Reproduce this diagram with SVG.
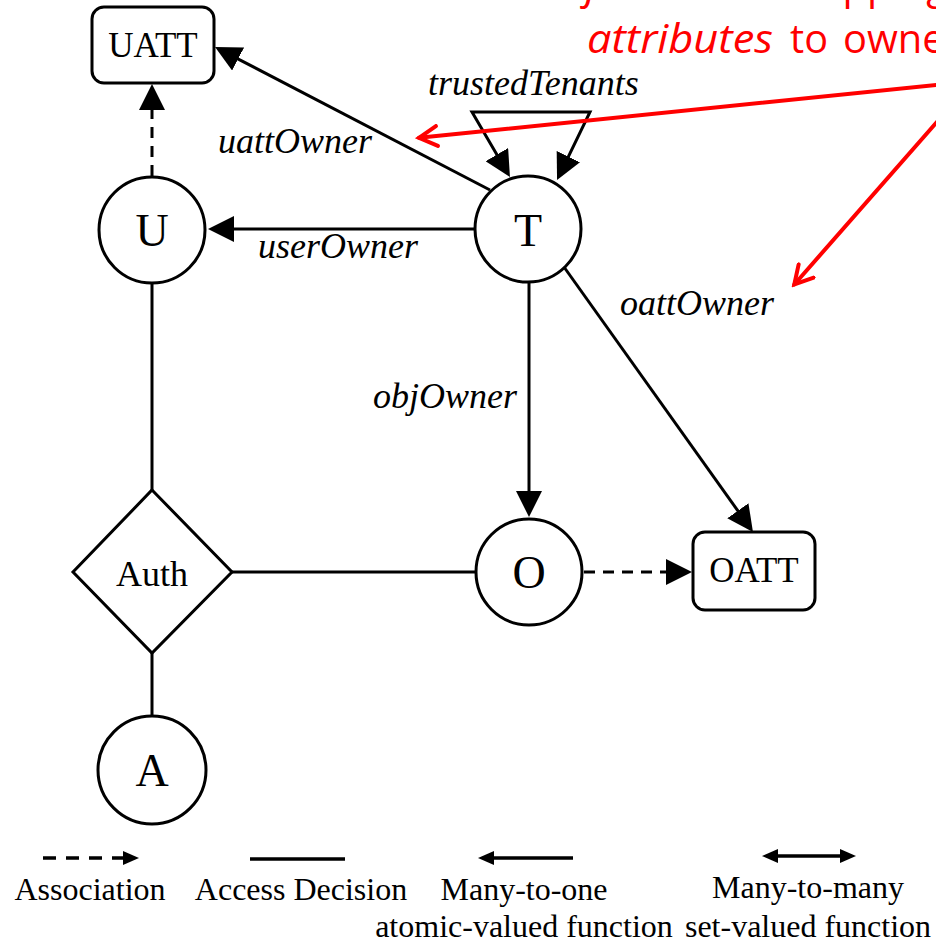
<svg xmlns="http://www.w3.org/2000/svg" width="936" height="945" viewBox="0 0 936 945">
  <style>
    .edge { stroke: #000; stroke-width: 3; fill: none; }
    .dash { stroke-dasharray: 11 8; }
    .node { fill: #fff; stroke: #000; stroke-width: 3; }
    .name { font-family: "Liberation Serif", "Times New Roman", serif; font-size: 46px; text-anchor: middle; fill: #000; }
    .boxname { font-family: "Liberation Serif", "Times New Roman", serif; font-size: 35px; text-anchor: middle; fill: #000; }
    .lbl { font-family: "Liberation Serif", "Times New Roman", serif; font-style: italic; font-size: 36px; fill: #000; }
    .leg { stroke: #000; stroke-width: 3.5; fill: none; }
    .legtxt { font-family: "Liberation Serif", "Times New Roman", serif; font-size: 32px; text-anchor: middle; fill: #000; }
    .red { stroke: #ff0000; stroke-width: 4; fill: none; stroke-linecap: round; }
    .note { font-family: "Open Sans", "Noto Sans", sans-serif; font-size: 40px; fill: #ff0000; }
  </style>
  <defs>
    <!-- filled head for the diagram connectors: tip sits 18 past the path end -->
    <marker id="head" viewBox="0 0 26 26" refX="8" refY="13" markerWidth="26" markerHeight="26" markerUnits="userSpaceOnUse" orient="auto-start-reverse">
      <path d="M0,0 L26,13 L0,26 z" fill="#000"/>
    </marker>
    <!-- small head for the legend samples: tip sits 12 past the path end -->
    <marker id="headSmall" viewBox="0 0 16 14" refX="4" refY="7" markerWidth="16" markerHeight="14" markerUnits="userSpaceOnUse" orient="auto-start-reverse">
      <path d="M0,0 L16,7 L0,14 z" fill="#000"/>
    </marker>
    <!-- open chevron for the red callouts -->
    <marker id="chevron" viewBox="-2 -2 24 24" refX="18" refY="10" markerWidth="24" markerHeight="24" markerUnits="userSpaceOnUse" orient="auto">
      <path d="M0,0 L18,10 L0,20" fill="none" stroke="#ff0000" stroke-width="4" stroke-linecap="round" stroke-linejoin="miter"/>
    </marker>
  </defs>

  <!-- connectors -->
  <g id="connectors">
    <path class="edge" d="M152,283 V490"/>
    <path class="edge" d="M232,572 H476"/>
    <path class="edge" d="M152,653 V716"/>
    <path class="edge dash" d="M152,176 V102" marker-end="url(#head)"/>
    <path class="edge" d="M475,229 H226" marker-end="url(#head)"/>
    <path class="edge" d="M490,190 L231,55.3" marker-end="url(#head)"/>
    <path class="edge" d="M500.9,161.5 L472,112 L590,112 L564.9,163.8" stroke-linejoin="miter" marker-start="url(#head)" marker-end="url(#head)"/>
    <path class="edge" d="M529,283 V499" marker-end="url(#head)"/>
    <path class="edge" d="M564,267 L742.5,517.3" marker-end="url(#head)"/>
    <path class="edge dash" d="M584,572 H674" marker-end="url(#head)"/>

    <text class="lbl" x="428" y="95">trustedTenants</text>
    <text class="lbl" x="218" y="153">uattOwner</text>
    <text class="lbl" x="258" y="258">userOwner</text>
    <text class="lbl" x="373" y="408">objOwner</text>
    <text class="lbl" x="620" y="315">oattOwner</text>
  </g>

  <!-- nodes -->
  <g id="UATT">
    <rect class="node" x="92" y="7" width="122" height="76" rx="12"/>
    <text class="boxname" x="153" y="57">UATT</text>
  </g>
  <g id="U">
    <circle class="node" cx="152" cy="230" r="53"/>
    <text class="name" x="152" y="246">U</text>
  </g>
  <g id="T">
    <circle class="node" cx="528" cy="229" r="53"/>
    <text class="name" x="528" y="246">T</text>
  </g>
  <g id="O">
    <circle class="node" cx="529" cy="572" r="53"/>
    <text class="name" x="529" y="588">O</text>
  </g>
  <g id="OATT">
    <rect class="node" x="693" y="532" width="122" height="78" rx="12"/>
    <text class="boxname" x="754" y="582">OATT</text>
  </g>
  <g id="Auth">
    <polygon class="node" points="152,490 232,572 152,653 73,572"/>
    <text class="boxname" x="152" y="586" style="font-size:36px">Auth</text>
  </g>
  <g id="A">
    <circle class="node" cx="152" cy="770" r="54"/>
    <text class="name" x="152" y="786">A</text>
  </g>

  <!-- legend -->
  <g id="legend">
    <path class="leg" d="M43,858 H127" stroke-dasharray="13 10" marker-end="url(#headSmall)"/>
    <path class="leg" d="M250,859 H345" stroke-width="4"/>
    <path class="leg" d="M573,858 H490" marker-end="url(#headSmall)"/>
    <path class="leg" d="M774,856 H844" marker-start="url(#headSmall)" marker-end="url(#headSmall)"/>
    <text class="legtxt" x="90" y="900">Association</text>
    <text class="legtxt" x="301" y="900">Access Decision</text>
    <text class="legtxt" x="524" y="900">Many-to-one</text>
    <text class="legtxt" x="808" y="898">Many-to-many</text>
    <text class="legtxt" x="524" y="937">atomic-valued function</text>
    <text class="legtxt" x="808" y="937">set-valued function</text>
  </g>

  <!-- red callout -->
  <g id="callout">
    <text class="note" x="585" y="-1" font-style="italic" textLength="191" lengthAdjust="spacingAndGlyphs">functional</text>
    <text class="note" x="783" y="-1" textLength="165" lengthAdjust="spacingAndGlyphs">mapping</text>
    <text class="note" x="587" y="53" font-style="italic" textLength="186" lengthAdjust="spacingAndGlyphs">attributes</text>
    <text class="note" x="790" y="53" textLength="38" lengthAdjust="spacingAndGlyphs">to</text>
    <text class="note" x="843" y="53" textLength="118" lengthAdjust="spacingAndGlyphs">owner</text>
    <path class="red" d="M940,84.6 L419,137.8" marker-end="url(#chevron)"/>
    <path class="red" d="M940,118.4 L794.3,284.5" marker-end="url(#chevron)"/>
  </g>
</svg>
